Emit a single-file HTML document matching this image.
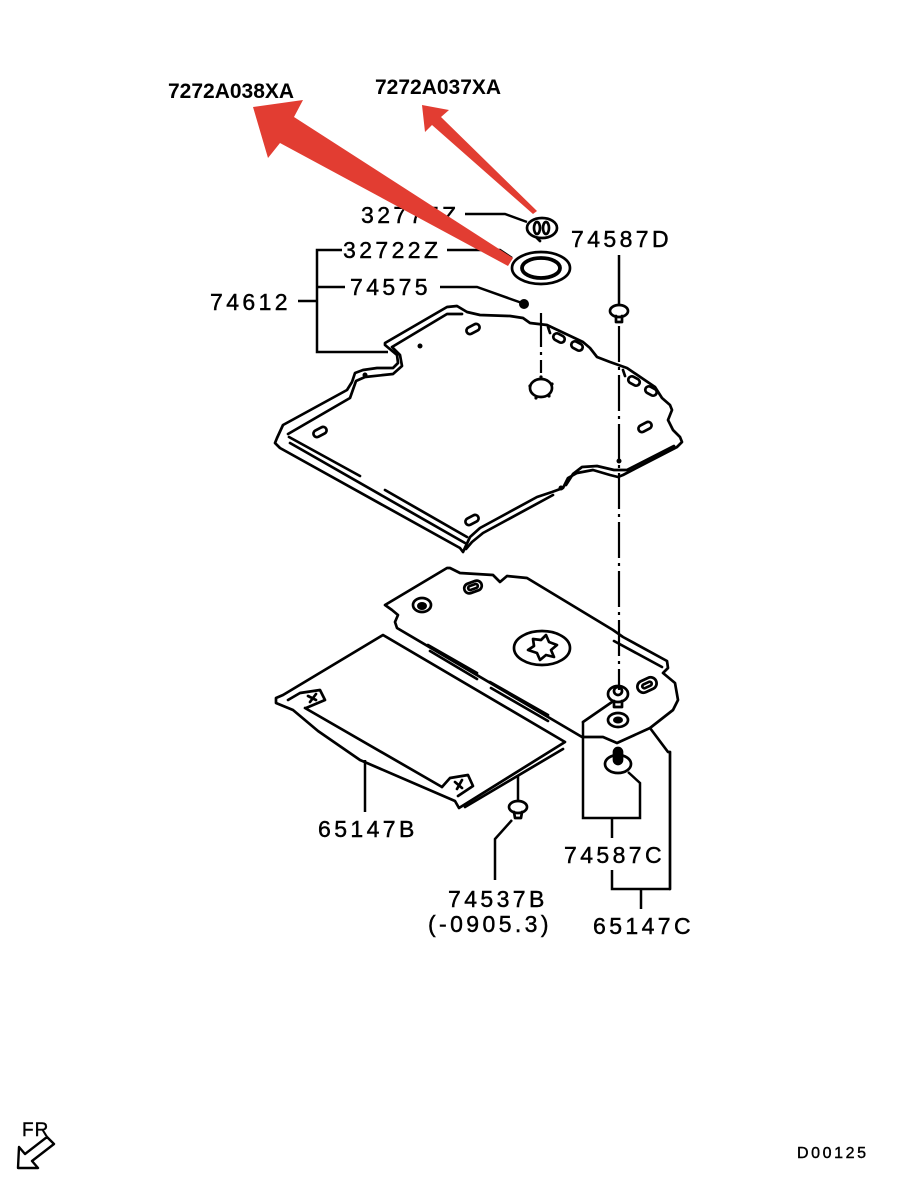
<!DOCTYPE html>
<html><head><meta charset="utf-8">
<style>
html,body{margin:0;padding:0;background:#fff;}
svg{display:block;}
.l{font-family:"Liberation Sans",sans-serif;font-size:23px;letter-spacing:3.4px;fill:#000;stroke:#000;stroke-width:0.45px;}
.r{font-family:"Liberation Sans",sans-serif;font-size:21px;font-weight:bold;fill:#000;}
.s{font-family:"Liberation Sans",sans-serif;font-size:16px;letter-spacing:2.6px;fill:#000;stroke:#000;stroke-width:0.4px;}
</style></head><body>
<svg width="909" height="1187" viewBox="0 0 909 1187" xmlns="http://www.w3.org/2000/svg">
<rect width="909" height="1187" fill="#fff"/>

<!-- Upper panel 74612 -->
<g fill="none" stroke="#000" stroke-width="2.7" stroke-linejoin="round" stroke-linecap="round">
<path d="M385,343 L447,307 L457,306 L467,312 L480,315 L510,316 L523,318 L530,323 L547,325 L583,342 L590,348 L597,357 L610,362 L627,368 L655,387 L662,398 L670,405 L672,410 L668,420 L673,430 L680,437 L682,442 L677,447 L623,475 L618,477 L610,475 L593,470 L577,473 L568,478 L563,488 L552,492 L537,497 L480,528 L470,537 L463,552 L460,548 L280,448 L275,443 L277,438 L283,425 L347,390 L352,382 L355,373 L363,370 L377,368 L393,368 L398,363 L397,355 L385,345 Z"/>
<path d="M392,347 L447,314 L462,314"/>
<path d="M288,434 L350,398 L356,381 L365,377 L393,374 L402,366 L400,355 L393,348"/>
<path d="M290,443 L465,543"/>
<path d="M289,437 L360,476"/>
<path d="M385,490 L467,537"/>
<path d="M674,446 L627,470 L614,470 L597,466 L582,467 L573,474 L566,485"/>
<path d="M553,495 L483,533 L472,542 L466,549"/>
<rect x="-7" y="-3.5" width="14" height="7" rx="3.5" transform="translate(473,329) rotate(-28)"/>
<rect x="-7" y="-3.5" width="14" height="7" rx="3.5" transform="translate(320,432) rotate(-28)"/>
<rect x="-7" y="-3.5" width="14" height="7" rx="3.5" transform="translate(472,520) rotate(-28)"/>
<rect x="-7" y="-3.5" width="14" height="7" rx="3.5" transform="translate(645,427) rotate(-28)"/>
<rect x="-6" y="-3.5" width="12" height="7" rx="3.5" transform="translate(559,338) rotate(28)"/>
<rect x="-6" y="-3.5" width="12" height="7" rx="3.5" transform="translate(577,346) rotate(28)"/>
<rect x="-6" y="-3.5" width="12" height="7" rx="3.5" transform="translate(634,381) rotate(28)"/>
<rect x="-6" y="-3.5" width="12" height="7" rx="3.5" transform="translate(651,391) rotate(28)"/>
<path d="M548,327 L550,333 M623,370 L625,376"/>
<ellipse cx="541" cy="388" rx="11" ry="9"/>
</g>
<g fill="#000">
<circle cx="420" cy="346" r="2.5"/>
<circle cx="365" cy="375" r="2.5"/>
<circle cx="619" cy="461" r="2.5"/>
<circle cx="561" cy="488" r="2.5"/>
<circle cx="541" cy="377" r="1.6"/><circle cx="530" cy="386" r="1.6"/><circle cx="552" cy="384" r="1.6"/><circle cx="536" cy="398" r="1.6"/><circle cx="549" cy="396" r="1.6"/>
<circle cx="524" cy="304" r="5"/>
</g>

<!-- Lower panel A (65147C) -->
<g fill="none" stroke="#000" stroke-width="2.7" stroke-linejoin="round" stroke-linecap="round">
<path d="M385,605 L447,568 L450,568 L460,573 L493,575 L500,582 L507,576 L527,578 L613,630 L623,637 L667,661 L668,668 L663,673 L675,683 L678,700 L673,710 L650,728 L617,743 L603,737 L588,737 L582,737 L397,628 L395,622 L398,615 L392,610 Z"/>
<path d="M614,641 L662,667"/>
<path d="M428,645 L477,673 M430,651 L477,679"/>
<path d="M490,682 L548,715 M491,688 L548,721"/>
<ellipse cx="422" cy="605" rx="9" ry="7"/>
<rect x="-9" y="-5" width="18" height="10" rx="5" transform="translate(473,587) rotate(-20)"/>
<rect x="-5" y="-2" width="10" height="4" rx="2" transform="translate(473,587) rotate(-20)"/>
<ellipse cx="542" cy="648" rx="28" ry="17"/>
<path d="M528,650 L534,646 L533,639 L541,640 L546,635 L549,642 L557,645 L551,650 L554,657 L546,655 L540,660 L537,653 Z"/>
<rect x="-10" y="-6" width="20" height="12" rx="6" transform="translate(647,685) rotate(-25)"/>
<rect x="-5" y="-2" width="10" height="4" rx="2" transform="translate(647,685) rotate(-25)"/>
<ellipse cx="618" cy="694" rx="10" ry="8"/>
<ellipse cx="618" cy="691" rx="4" ry="4"/>
<path d="M614,701 L614,707 L622,707 L622,701"/>
<ellipse cx="618" cy="720" rx="10" ry="7"/>
<path d="M583,722 L612,702"/>
<path d="M650,728 L668,752 L670,752 L670,889"/>
<!-- 65147B panel -->
<path d="M283,695 L383,635 L565,742 L459,808 L455,801 L360,760 L318,731 L293,710 L276,703 L276,698 Z"/>
<path d="M305,708 L442,787"/>
<path d="M563,749 L465,807"/>
<path d="M288,700 L300,693 L320,690 L325,700 L306,708"/>
<path d="M442,787 L450,778 L468,775 L473,786 L458,796"/>
<path d="M308,696 L316,700 M316,694 L310,702 M455,782 L462,788 M462,780 L457,789"/>
</g>
<g fill="#000">
<ellipse cx="422" cy="606" rx="5" ry="4"/>
<ellipse cx="618" cy="720" rx="5" ry="3.5"/>
</g>

<g fill="none" stroke="#000" stroke-width="2.7" stroke-linejoin="round" stroke-linecap="round">
<ellipse cx="618" cy="764" rx="13" ry="9"/>
<rect x="614" y="748" width="8" height="16" rx="4" fill="#000"/>
<ellipse cx="518" cy="807" rx="9" ry="6"/>
<path d="M514,812 L515,818 L521,818 L522,812"/>
<ellipse cx="619" cy="311" rx="9" ry="6"/>
<path d="M616,316 L616,322 L622,322 L622,316"/>
<ellipse cx="542" cy="228" rx="15" ry="10"/>
<ellipse cx="537" cy="228" rx="3" ry="6"/>
<ellipse cx="546" cy="228" rx="3" ry="6"/>
<path d="M537,238 L540,241"/>
<ellipse cx="541" cy="268" rx="29" ry="16"/>
<ellipse cx="541" cy="268" rx="19" ry="10" stroke-width="3.8"/>
</g>

<g fill="none" stroke="#000" stroke-width="2.5" stroke-linejoin="miter">
<path d="M465,214 L505,214 L527,222"/>
<path d="M447,250 L500,250 L512,258"/>
<path d="M440,287 L477,287 L522,303"/>
<path d="M342,250 L317,250 L317,352 L388,352"/>
<path d="M317,287 L345,287"/>
<path d="M298,301 L317,301"/>
<path d="M619,255 L619,305"/>
<path d="M365,760 L365,812"/>
<path d="M518,776 L518,800"/>
<path d="M512,820 L495,839 L495,880"/>
<path d="M583,722 L583,818 L640,818 L640,783 L628,772"/>
<path d="M612,818 L612,838"/>
<path d="M612,870 L612,889 L670,889"/>
<path d="M641,889 L641,909"/>
</g>
<g fill="none" stroke="#000" stroke-width="2.2">
<path d="M541,313 L541,373" stroke-dasharray="34,5,3,5"/>
<path d="M619,326 L619,690" stroke-dasharray="36,5,3,5"/>
</g>

<text class="l" x="361" y="223">32777Z</text>
<text class="l" x="343" y="258">32722Z</text>
<text class="l" x="350" y="295">74575</text>
<text class="l" x="210" y="310">74612</text>
<text class="l" x="571" y="247">74587D</text>
<text class="l" x="318" y="837">65147B</text>
<text class="l" x="448" y="907">74537B</text>
<text class="l" x="428" y="932">(-0905.3)</text>
<text class="l" x="564" y="863">74587C</text>
<text class="l" x="593" y="934">65147C</text>
<text class="s" x="797" y="1158">D00125</text>
<text class="s" x="22" y="1136" style="font-size:19px;letter-spacing:1px">FR</text>
<path d="M18,1168 L19,1147 L25,1154 L47,1137 L54,1144 L32,1161 L38,1168 Z" fill="none" stroke="#000" stroke-width="2.4" stroke-linejoin="round"/>

<g fill="#e23d32">
<path d="M253,107 L303,100 L294,117 L513,258 L508,266 L280,143 L268,158 Z"/>
<path d="M422,105 L449,110 L441,117 L537,211 L533,214 L432,125 L425,132 Z"/>
</g>
<text class="r" x="168" y="98">7272A038XA</text>
<text class="r" x="375" y="94">7272A037XA</text>
</svg>
</body></html>
